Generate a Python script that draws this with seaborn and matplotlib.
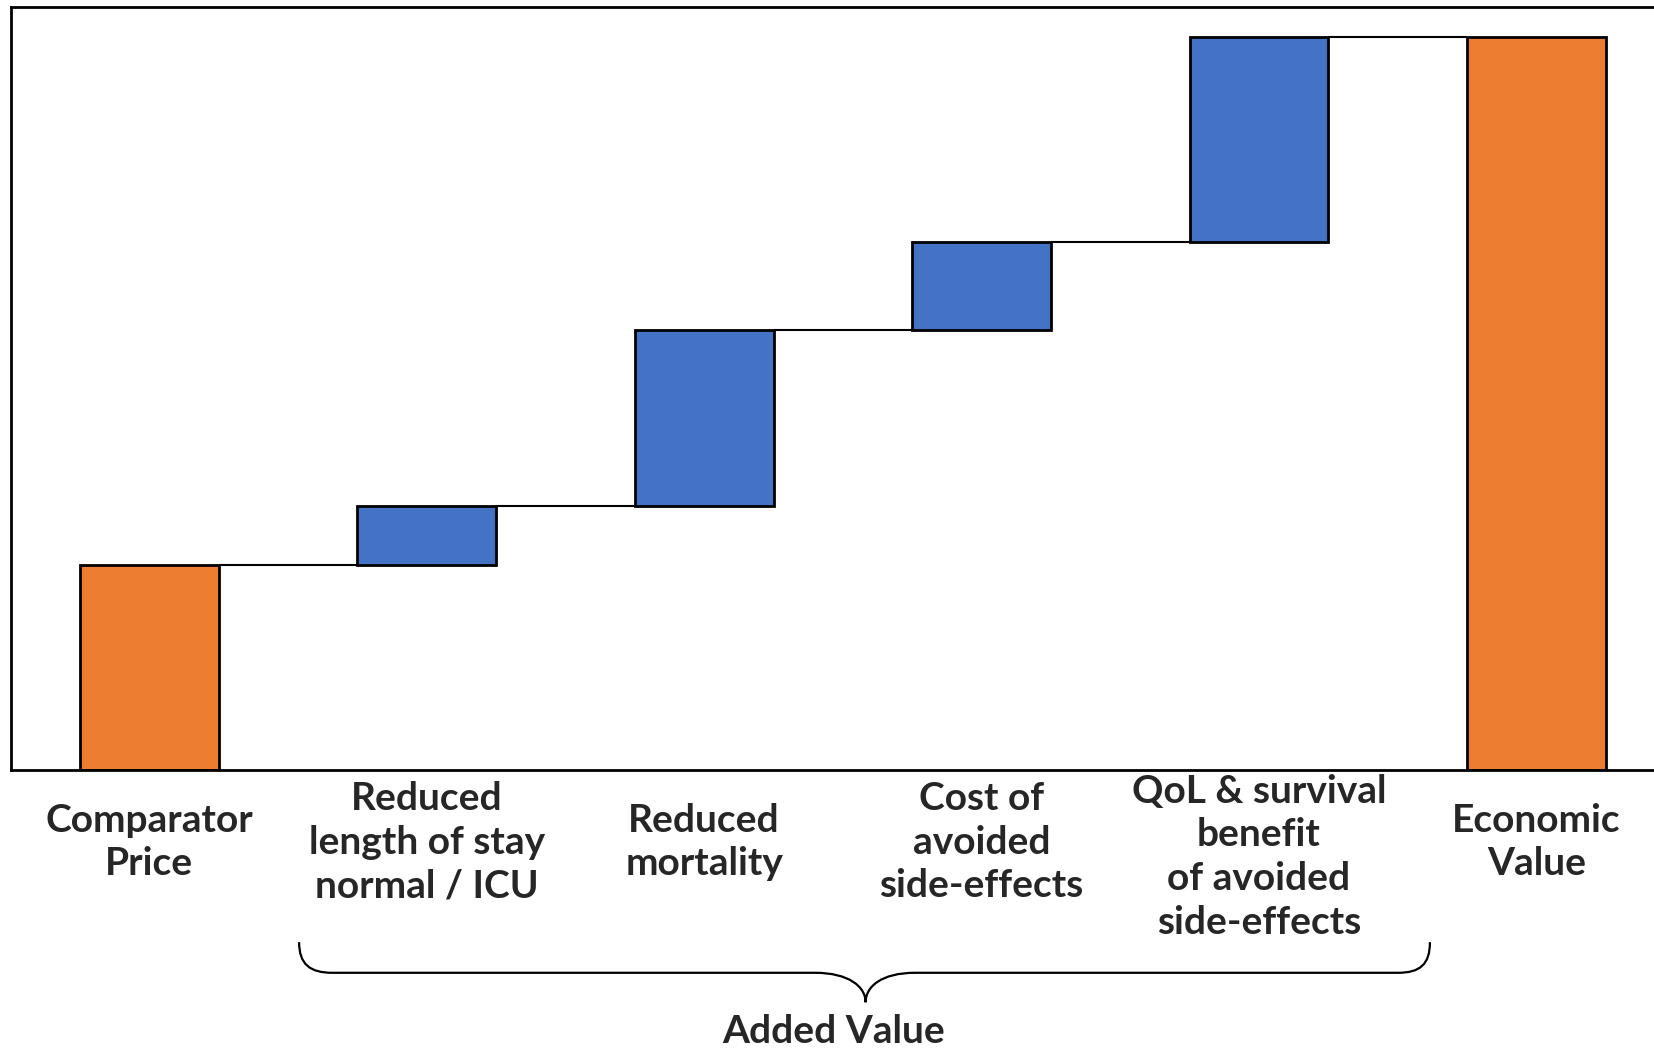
import numpy as np
import matplotlib.pyplot as plt
import seaborn as sns
from matplotlib.path import Path
from matplotlib.patches import PathPatch

# waterfall data (relative units)
labels = ["Comparator\nPrice",
          "Reduced\nlength of stay\nnormal / ICU",
          "Reduced\nmortality",
          "Cost of\navoided\nside-effects",
          "QoL & survival\nbenefit\nof avoided\nside-effects",
          "Economic\nValue"]
steps = [28, 8, 24, 12, 28]          # comparator price + added value steps
kinds = ["total", "step", "step", "step", "step", "total"]

colors = {"total": "#ED7D31", "step": "#4472C4"}

tops = np.cumsum(steps)
heights = steps + [tops[-1]]
bottoms = [0] + list(tops[:-1]) + [0]

sns.set_style("white")
plt.rcParams['font.family'] = ['Lato', 'DejaVu Sans']

fig = plt.figure(figsize=(16.54, 10.55), dpi=100)
ax = fig.add_axes([0.0064, 0.270, 1.0064, 0.723])

sns.barplot(x=list(range(len(labels))), y=heights, hue=list(range(len(labels))),
            palette=[colors[k] for k in kinds], legend=False, width=0.5,
            edgecolor="black", linewidth=2, saturation=1, ax=ax)

# shift the bars to make a waterfall
for p, b in zip(ax.patches, bottoms):
    p.set_y(b)

# connectors
for i, lv in enumerate(tops):
    ax.hlines(lv, i + 0.25, i + 0.75, color="black", lw=1.5, zorder=1)

ax.set_xlim(-0.5, 5.5)
ax.set_ylim(0, 104)
ax.set_xticks([])
ax.set_yticks([])
ax.set_xlabel("")
ax.set_ylabel("")
for s in ax.spines.values():
    s.set_color("black")
    s.set_linewidth(2)

# category labels below the axis
label_y = [-9.8, -9.8, -9.8, -9.8, -11.8, -9.8]
for i, (lab, yy) in enumerate(zip(labels, label_y)):
    ax.text(i, yy, lab, ha="center", va="center", fontsize=28,
            fontweight="bold", linespacing=1.3, clip_on=False)

# brace under the added-value steps
verts = [(0.54, -23.45), (0.54, -26.5), (0.58, -27.63), (0.66, -27.63),
         (2.40, -27.63),
         (2.52, -27.63), (2.582, -29.5), (2.582, -31.65),
         (2.582, -29.5), (2.64, -27.63), (2.76, -27.63),
         (4.50, -27.63),
         (4.58, -27.63), (4.616, -26.5), (4.616, -23.45)]
codes = [Path.MOVETO, Path.CURVE4, Path.CURVE4, Path.CURVE4,
         Path.LINETO,
         Path.CURVE4, Path.CURVE4, Path.CURVE4,
         Path.CURVE4, Path.CURVE4, Path.CURVE4,
         Path.LINETO,
         Path.CURVE4, Path.CURVE4, Path.CURVE4]
ax.add_patch(PathPatch(Path(verts, codes), fill=False, lw=1.6,
                       edgecolor="black", clip_on=False))
ax.text(2.468, -35.6, "Added Value", ha="center", va="center",
        fontsize=28, fontweight="bold", clip_on=False)

fig.savefig("out.png", dpi=100)
